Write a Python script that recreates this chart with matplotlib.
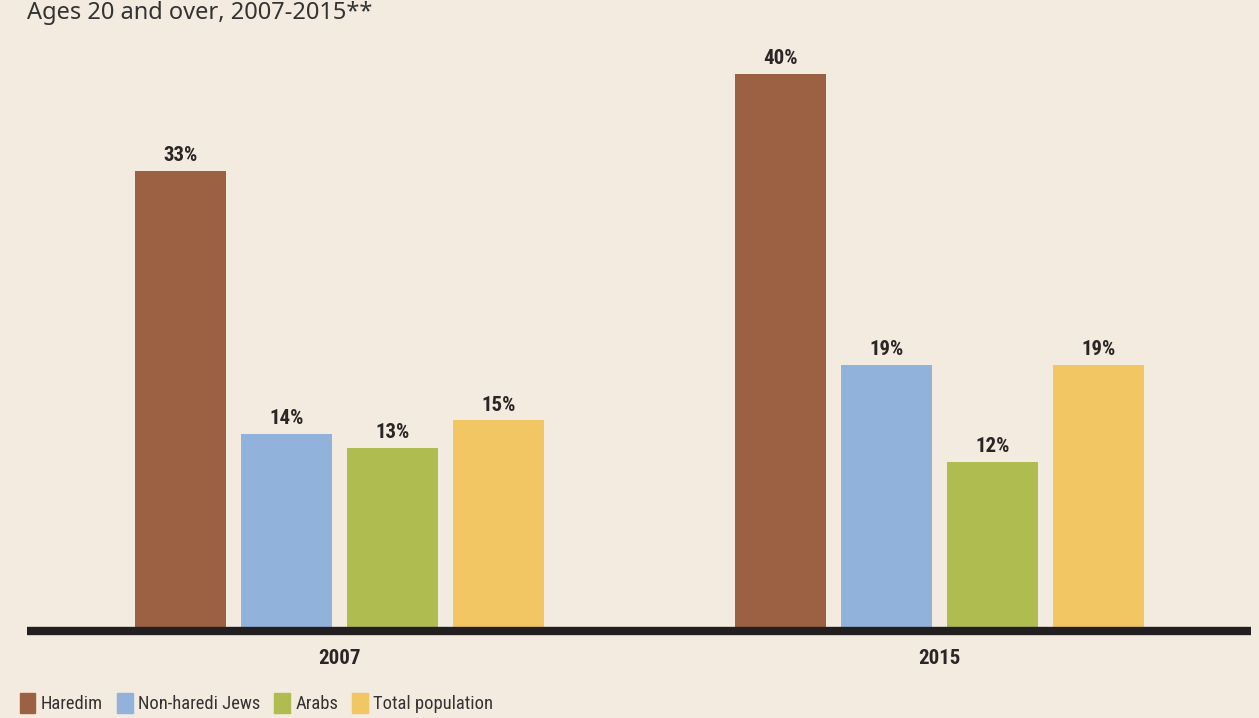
import numpy as np
import matplotlib.pyplot as plt
from matplotlib.patches import Patch

# Share of people in poverty, by population group
years = ['2007', '2015']
groups = ['Haredim', 'Non-haredi Jews', 'Arabs', 'Total population']
values = {
    'Haredim': [33, 40],
    'Non-haredi Jews': [14, 19],
    'Arabs': [13, 12],
    'Total population': [15, 19],
}
colors = ['#9c6043', '#91b2db', '#afbc50', '#f2c662']

bg = '#f3ebe0'
ink = '#2b2626'
narrow = ['Roboto Condensed', 'Roboto', 'DejaVu Sans']

fig = plt.figure(figsize=(12.59, 7.18), dpi=100, facecolor=bg)
ax = fig.add_axes([27 / 1259, 90 / 718, 1224 / 1259, 582 / 718])
ax.set_facecolor(bg)

x = np.arange(len(years))
step = 106 / 600
width = 91 / 600
offsets = (np.arange(len(groups)) - 1.5) * step

for i, g in enumerate(groups):
    bars = ax.bar(x + offsets[i], values[g], width, color=colors[i], label=g, zorder=2)
    for b, v in zip(bars, values[g]):
        ax.annotate(f'{v}%', (b.get_x() + b.get_width() / 2, v),
                    xytext=(0, 4), textcoords='offset points',
                    ha='center', va='bottom', fontsize=15, fontweight='bold',
                    color=ink, family=narrow)

ax.set_xlim(-312.5 / 600, 911.5 / 600)
ax.set_ylim(0, 42)

# heavy baseline under the bars
ax.axhline(-0.2, color='#231f20', lw=6, zorder=3, clip_on=False,
           solid_capstyle='butt')

for s in ax.spines.values():
    s.set_visible(False)
ax.set_yticks([])
ax.set_xticks(x)
ax.set_xticklabels(years, fontsize=15, fontweight='bold', color=ink, family=narrow)
ax.tick_params(axis='x', length=0, pad=15)

fig.text(27 / 1259, 1 - 19 / 718, 'Ages 20 and over, 2007-2015**', fontsize=17,
         color='#333333', family='Noto Sans', ha='left', va='baseline')

handles = [Patch(color=c, label=g) for c, g in zip(colors, groups)]
leg = fig.legend(handles=handles, loc='lower left', bbox_to_anchor=(3 / 1259, -12 / 718),
                 ncol=4, frameon=False, handlelength=0.85, handleheight=1.35,
                 handletextpad=0.3, columnspacing=0.75,
                 prop={'family': narrow, 'size': 13.3})
for t in leg.get_texts():
    t.set_color('#333333')

plt.savefig('out.png', dpi=100, facecolor=bg)
